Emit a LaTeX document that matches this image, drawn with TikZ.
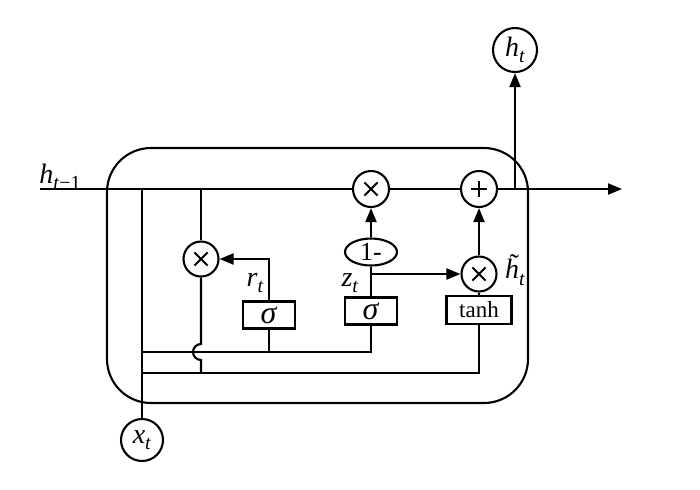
\documentclass[tikz,border=0pt]{standalone}
\usepackage{fontspec}
\setmainfont{Liberation Serif}
\usetikzlibrary{arrows.meta,shapes.geometric}
\newcommand\vsub[2]{\textit{#1}\raisebox{-0.5ex}{\fontsize{10}{12}\selectfont\textit{#2}}}
\begin{document}
\begin{tikzpicture}[x=0.5pt,y=-0.5pt,
  every node/.style={font=\fontsize{11.5}{13}\selectfont},
  ln/.style={line width=1.05pt},
  arr/.style={ln,-{Triangle[length=7pt,width=5.5pt]}},
  op/.style={circle,draw,line width=1.05pt,minimum size=17.5pt,inner sep=0pt},
  mul/.style={op,path picture={
    \draw[line width=1pt] ([shift={(-3.3pt,-3.3pt)}]path picture bounding box.center) -- ([shift={(3.3pt,3.3pt)}]path picture bounding box.center);
    \draw[line width=1pt] ([shift={(-3.3pt,3.3pt)}]path picture bounding box.center) -- ([shift={(3.3pt,-3.3pt)}]path picture bounding box.center);}},
  add/.style={op,path picture={
    \draw[line width=1pt] ([shift={(-3.8pt,0pt)}]path picture bounding box.center) -- ([shift={(3.8pt,0pt)}]path picture bounding box.center);
    \draw[line width=1pt] ([shift={(0pt,-3.8pt)}]path picture bounding box.center) -- ([shift={(0pt,3.8pt)}]path picture bounding box.center);}},
  io/.style={circle,draw,line width=1.05pt,minimum size=21pt,inner sep=0pt,font=\fontsize{14}{16}\selectfont},
  gate/.style={rectangle,draw,line width=1.05pt,minimum width=26pt,minimum height=13.5pt,inner sep=0pt,font=\fontsize{16}{17}\selectfont},
  lbl/.style={inner sep=0pt,font=\fontsize{14}{16}\selectfont}
]
\useasboundingbox (0,0) rectangle (700,489);
% cell
\draw[ln,rounded corners=22pt] (107,148) rectangle (528,403);
% nodes
\node[io] (xt) at (142,440) {\vsub{x}{t}};
\node[io,minimum size=22pt] (ht) at (515,50) {\vsub{h}{t}};
\node[mul] (m1) at (201,259) {};
\node[mul,minimum size=18pt] (m2) at (371,189) {};
\node[add,minimum size=18pt] (ad) at (479,189) {};
\node[mul] (m3) at (479,274) {};
\node[ellipse,draw,line width=1.05pt,minimum width=26pt,minimum height=13.5pt,inner sep=0pt,font=\fontsize{13}{14}\selectfont] (one) at (371,252) {1-};
\node[gate] (sr) at (269,315) {\textit{σ}};
\node[gate] (sz) at (371,311) {\textit{σ}};
\node[gate,minimum width=32.5pt,minimum height=14pt,font=\fontsize{11.5}{13}\selectfont] (th) at (479,310) {tanh};
% labels
\node[lbl] (lh) at (60,177) {\textit{h}\raisebox{-0.5ex}{\fontsize{10}{12}\selectfont\textit{t}−1}};
\node[lbl] (lr) at (255,283) {\vsub{r}{t}};
\node[lbl] (lz) at (350,283) {\vsub{z}{t}};
\node[lbl] (lht) at (515,270) {\rlap{\hspace{0.16em}\raisebox{0.2em}{˜}}\vsub{h}{t}};
% coordinates
\coordinate (in) at (40,189);
\coordinate (out) at (622,189);
\coordinate (sx) at (142,189);
\coordinate (sh) at (201,189);
\coordinate (so) at (515,189);
\coordinate (zb) at (371,274);
\coordinate (j1) at (201,344);
\coordinate (j2) at (201,373);
\coordinate (b1) at (142,352);
\coordinate (b1e) at (371,352);
\coordinate (b1r) at (269,352);
\coordinate (b2) at (142,373);
\coordinate (b2e) at (479,373);
% main line
\draw[ln] (in) -- (m2.west);
\draw[ln] (m2.east) -- (ad.west);
\draw[arr] (ad.east) -- (out);
\draw[arr] (so) -- (ht.south);
% x_t line
\draw[ln] (sx) -- (xt.north);
% reset branch
\draw[ln] (sh) -- (m1.north);
\draw[ln] (m1.south) -- (j1) arc[start angle=90,end angle=270,radius=4pt] -- (j2);
% bottom buses
\draw[ln] (b1) -- (b1e) -- (sz.south);
\draw[ln] (b1r) -- (sr.south);
\draw[ln] (b2) -- (b2e) -- (th.south);
% gates
\draw[arr] (sr.north) |- (m1.east);
\draw[ln] (sz.north) -- (one.south);
\draw[arr] (one.north) -- (m2.south);
\draw[arr] (zb) -- (m3.west);
\draw[ln] (th.north) -- (m3.south);
\draw[arr] (m3.north) -- (ad.south);
\end{tikzpicture}
\end{document}
